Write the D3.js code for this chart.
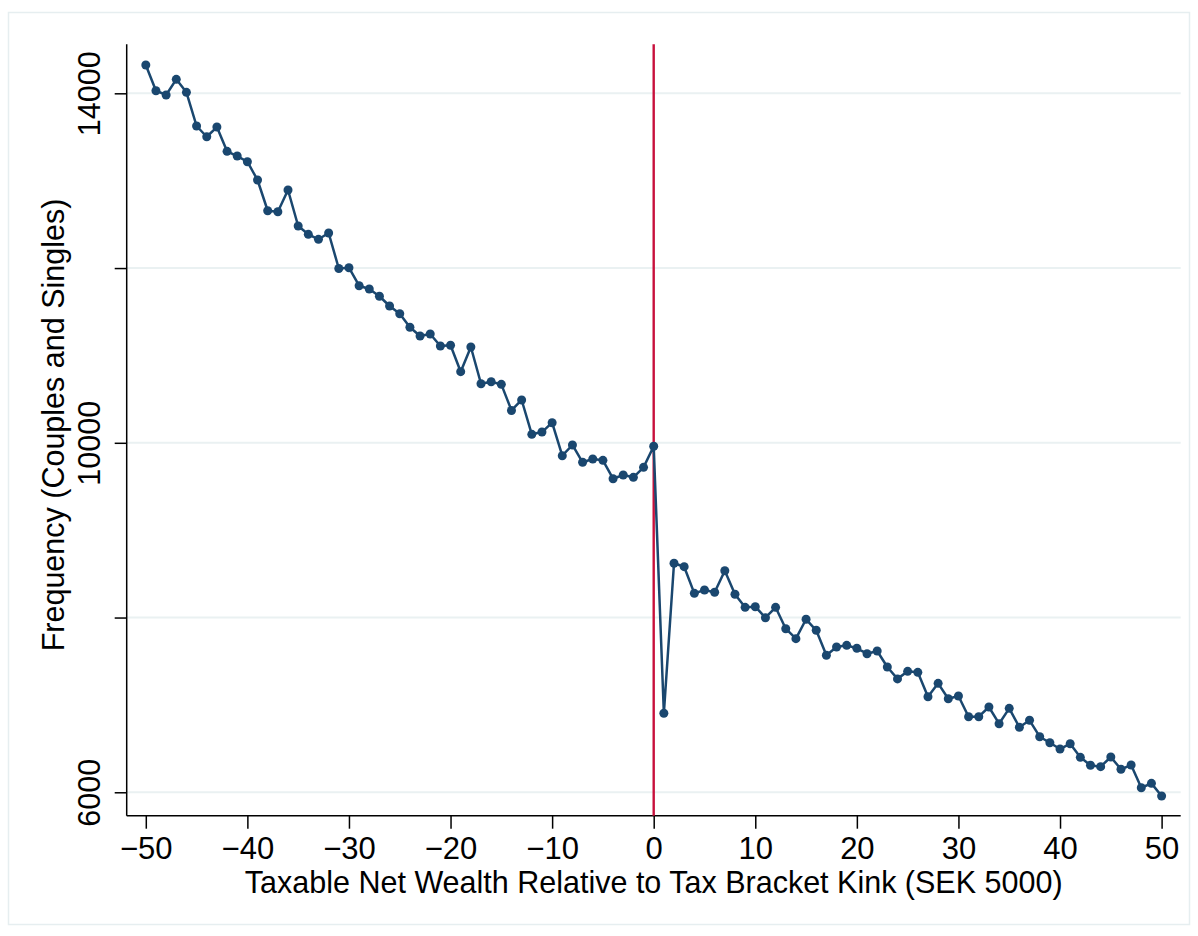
<!DOCTYPE html>
<html>
<head>
<meta charset="utf-8">
<script src="https://cdn.jsdelivr.net/npm/d3@7"></script>
<style>
  html, body { margin: 0; padding: 0; background: #ffffff; }
  svg { display: block; }
  text { font-family: "Liberation Sans", Arial, Helvetica, sans-serif; fill: #000; }
</style>
</head>
<body>
<svg id="chart" width="1198" height="936"></svg>
<script>
// ---- data ----
const bins = [
  -50,-49,-48,-47,-46,-45,-44,-43,-42,-41,-40,-39,-38,-37,-36,-35,-34,-33,-32,-31,
  -30,-29,-28,-27,-26,-25,-24,-23,-22,-21,-20,-19,-18,-17,-16,-15,-14,-13,-12,-11,
  -10,-9,-8,-7,-6,-5,-4,-3,-2,-1,0,
  1,2,3,4,5,6,7,8,9,10,11,12,13,14,15,16,17,18,19,20,
  21,22,23,24,25,26,27,28,29,30,31,32,33,34,35,36,37,38,39,40,
  41,42,43,44,45,46,47,48,49,50
];
const frequency = [
  14324,14030,13981,14160,14011,13626,13503,13614,13336,13282,13217,13008,12656,12645,12893,12481,12386,12329,12401,11995,
  12004,11798,11760,11677,11566,11477,11322,11222,11245,11108,11116,10814,11096,10676,10699,10669,10370,10490,10097,10123,
  10230,9852,9975,9777,9814,9799,9589,9631,9605,9719,9960,
  6904,8621,8582,8277,8315,8289,8536,8266,8117,8124,7998,8117,7872,7758,7980,7854,7568,7663,7682,7648,
  7586,7617,7434,7298,7384,7373,7094,7247,7071,7102,6865,6865,6976,6785,6961,6744,6824,6636,6567,6495,
  6556,6400,6309,6293,6404,6263,6312,6052,6102,5957
];
const xTicks = [-50,-40,-30,-20,-10,0,10,20,30,40,50];
const yTicks = [6000,8000,10000,12000,14000];
const yTickLabels = ["6000","","10000","","14000"];
const kinkAt = 0;
const xTitle = "Taxable Net Wealth Relative to Tax Bracket Kink (SEK 5000)";
const yTitle = "Frequency (Couples and Singles)";

// ---- layout ----
(function () {
const svg = d3.select("#chart");
const W = 1198, H = 936;
const pL = 126.7, pR = 1180.7, pT = 44.3, pB = 815.7;

const x = d3.scaleLinear().domain([-51.88, 51.88]).range([pL, pR]);
const y = d3.scaleLinear().domain([5732, 14561]).range([pB, pT]);

svg.append("rect").attr("width", W).attr("height", H).attr("fill", "#ffffff");
// outer frame
svg.append("rect")
  .attr("x", 8.5).attr("y", 12.5).attr("width", 1181).attr("height", 912)
  .attr("fill", "none").attr("stroke", "#e6eef0").attr("stroke-width", 1.5);

// gridlines
svg.append("g").selectAll("line").data(yTicks).join("line")
  .attr("x1", pL).attr("x2", pR)
  .attr("y1", d => y(d)).attr("y2", d => y(d))
  .attr("stroke", "#eaf1f2").attr("stroke-width", 2);

// y axis
const yAxis = d3.axisLeft(y).tickValues(yTicks).tickSize(12)
  .tickFormat((d, i) => yTickLabels[i]);
const gy = svg.append("g").attr("transform", `translate(${pL},0)`).call(yAxis);
gy.select(".domain").attr("d", `M0,${pT}V${pB}`).attr("stroke", "#000").attr("stroke-width", 1.5);
gy.selectAll(".tick line").attr("stroke", "#000").attr("stroke-width", 1.5);
gy.selectAll(".tick text")
  .attr("x", 0).attr("y", 0).attr("dy", null)
  .attr("transform", "translate(-26.7,0) rotate(-90)")
  .attr("text-anchor", "middle")
  .attr("font-size", 30.5)
  .attr("font-family", "Liberation Sans, Arial, sans-serif")
  .attr("fill", "#000");

// x axis
const xAxis = d3.axisBottom(x).tickValues(xTicks).tickSize(13)
  .tickFormat(d3.format("d"));
const gx = svg.append("g").attr("transform", `translate(0,${pB})`).call(xAxis);
gx.select(".domain").attr("d", `M${pL},0H${pR}`).attr("stroke", "#000").attr("stroke-width", 1.5);
gx.selectAll(".tick line").attr("stroke", "#000").attr("stroke-width", 1.5);
gx.selectAll(".tick text")
  .attr("y", 859.3 - pB).attr("dy", null)
  .attr("font-size", 31)
  .attr("font-family", "Liberation Sans, Arial, sans-serif")
  .attr("fill", "#000");

// kink line
svg.append("line")
  .attr("x1", x(kinkAt)).attr("x2", x(kinkAt))
  .attr("y1", pT).attr("y2", pB)
  .attr("stroke", "#c8103c").attr("stroke-width", 2.4);

// data line + markers
const pts = bins.map((b, i) => ({b, v: frequency[i]}));
svg.append("path").datum(pts)
  .attr("fill", "none").attr("stroke", "#1a476f").attr("stroke-width", 2.5)
  .attr("stroke-linejoin", "round")
  .attr("d", d3.line().x(d => x(d.b)).y(d => y(d.v)));
svg.append("g").selectAll("circle").data(pts).join("circle")
  .attr("cx", d => x(d.b)).attr("cy", d => y(d.v)).attr("r", 4.5)
  .attr("fill", "#1a476f");

// titles
svg.append("text")
  .attr("x", (pL + pR) / 2).attr("y", 892.5)
  .attr("text-anchor", "middle").attr("font-size", 30.5)
  .text(xTitle);
svg.append("text")
  .attr("transform", `translate(63.5,${(pT + pB) / 2 - 5}) rotate(-90)`)
  .attr("text-anchor", "middle").attr("font-size", 30.5)
  .text(yTitle);
})();
</script>
</body>
</html>
